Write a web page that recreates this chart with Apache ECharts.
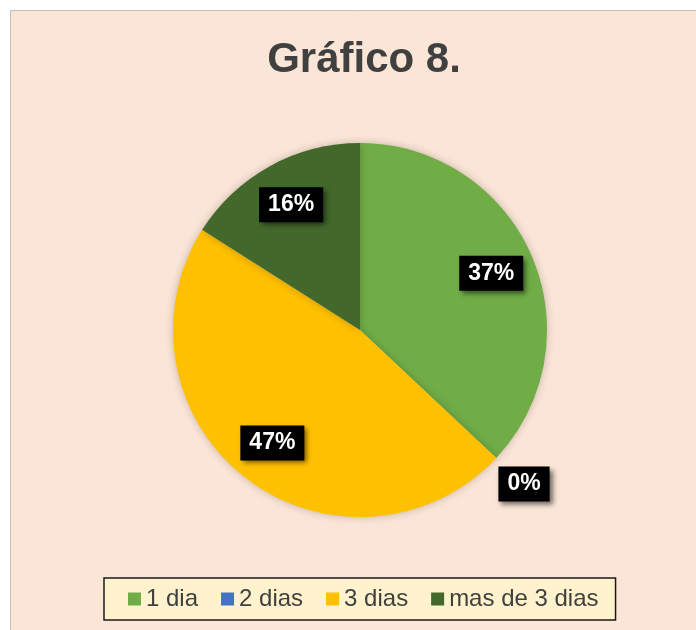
<!DOCTYPE html>
<html>
<head>
<meta charset="utf-8">
<script src="https://cdn.jsdelivr.net/npm/echarts@6/dist/echarts.min.js"></script>
<style>
html,body{margin:0;padding:0;background:#fff;}
#chart{width:696px;height:630px;}
</style>
</head>
<body>
<div id="chart"></div>
<script>
const titleText = 'Gráfico 8.';
const categories = ['1 dia', '2 dias', '3 dias', 'mas de 3 dias'];
const values = [37, 0, 47, 16];
const colors = ['#70AD47', '#4472C4', '#FFC000', '#43682B'];

const FONT = '"Liberation Sans", Arial, Helvetica, sans-serif';
const CENTER = [360, 330];

const chart = echarts.init(document.getElementById('chart'), null, {renderer: 'canvas'});

const labelStyle = {
  show: true,
  position: 'inside',
  formatter: p => Math.round(p.percent) + '%',
  color: '#fff',
  fontSize: 23,
  fontWeight: 'bold',
  fontFamily: FONT,
  backgroundColor: '#000',
  padding: [6, 9, 6, 9],
  shadowColor: 'rgba(0,0,0,0.55)',
  shadowBlur: 5,
  shadowOffsetX: 3,
  shadowOffsetY: 3
};

function labelData(showFn) {
  return categories.map((name, i) => ({
    name: name,
    value: values[i],
    itemStyle: {color: 'transparent'},
    label: {show: showFn(i)}
  }));
}

chart.setOption({
  backgroundColor: '#fff',
  animation: false,
  graphic: [{
    type: 'rect',
    shape: {x: 10.5, y: 10.5, width: 700, height: 640},
    style: {fill: '#FBE5D6', stroke: '#BFBFBF', lineWidth: 1},
    z: -10,
    silent: true
  }],
  title: {
    text: titleText,
    left: 359,
    top: 34,
    textAlign: 'center',
    textStyle: {fontSize: 42, fontWeight: 'bold', color: '#404040', fontFamily: FONT}
  },
  legend: {
    data: categories,
    left: 104,
    bottom: 10,
    orient: 'horizontal',
    icon: 'rect',
    itemWidth: 13,
    itemHeight: 13,
    itemGap: 23,
    padding: [9, 17, 9, 24],
    backgroundColor: '#FFF2CC',
    borderColor: '#1a1a1a',
    borderWidth: 1.5,
    borderRadius: 0,
    textStyle: {fontSize: 24, color: '#404040', fontFamily: FONT}
  },
  series: [
    {
      type: 'pie',
      center: CENTER,
      radius: [0, 187],
      startAngle: 90,
      clockwise: true,
      avoidLabelOverlap: false,
      silent: true,
      label: {show: false},
      labelLine: {show: false},
      itemStyle: {shadowBlur: 8, shadowColor: 'rgba(0,0,0,0.22)'},
      data: categories.map((name, i) => ({name: name, value: values[i], itemStyle: {color: colors[i]}}))
    },
    {
      type: 'pie',
      center: CENTER,
      radius: [100, 180],
      startAngle: 90,
      clockwise: true,
      avoidLabelOverlap: false,
      silent: true,
      z: 5,
      label: labelStyle,
      labelLine: {show: false},
      emphasis: {disabled: true},
      data: labelData(i => values[i] !== 0)
    },
    {
      type: 'pie',
      center: CENTER,
      radius: [200, 244],
      startAngle: 90,
      clockwise: true,
      avoidLabelOverlap: false,
      silent: true,
      z: 5,
      label: labelStyle,
      labelLine: {show: false},
      emphasis: {disabled: true},
      data: labelData(i => values[i] === 0)
    }
  ]
});
</script>
</body>
</html>
